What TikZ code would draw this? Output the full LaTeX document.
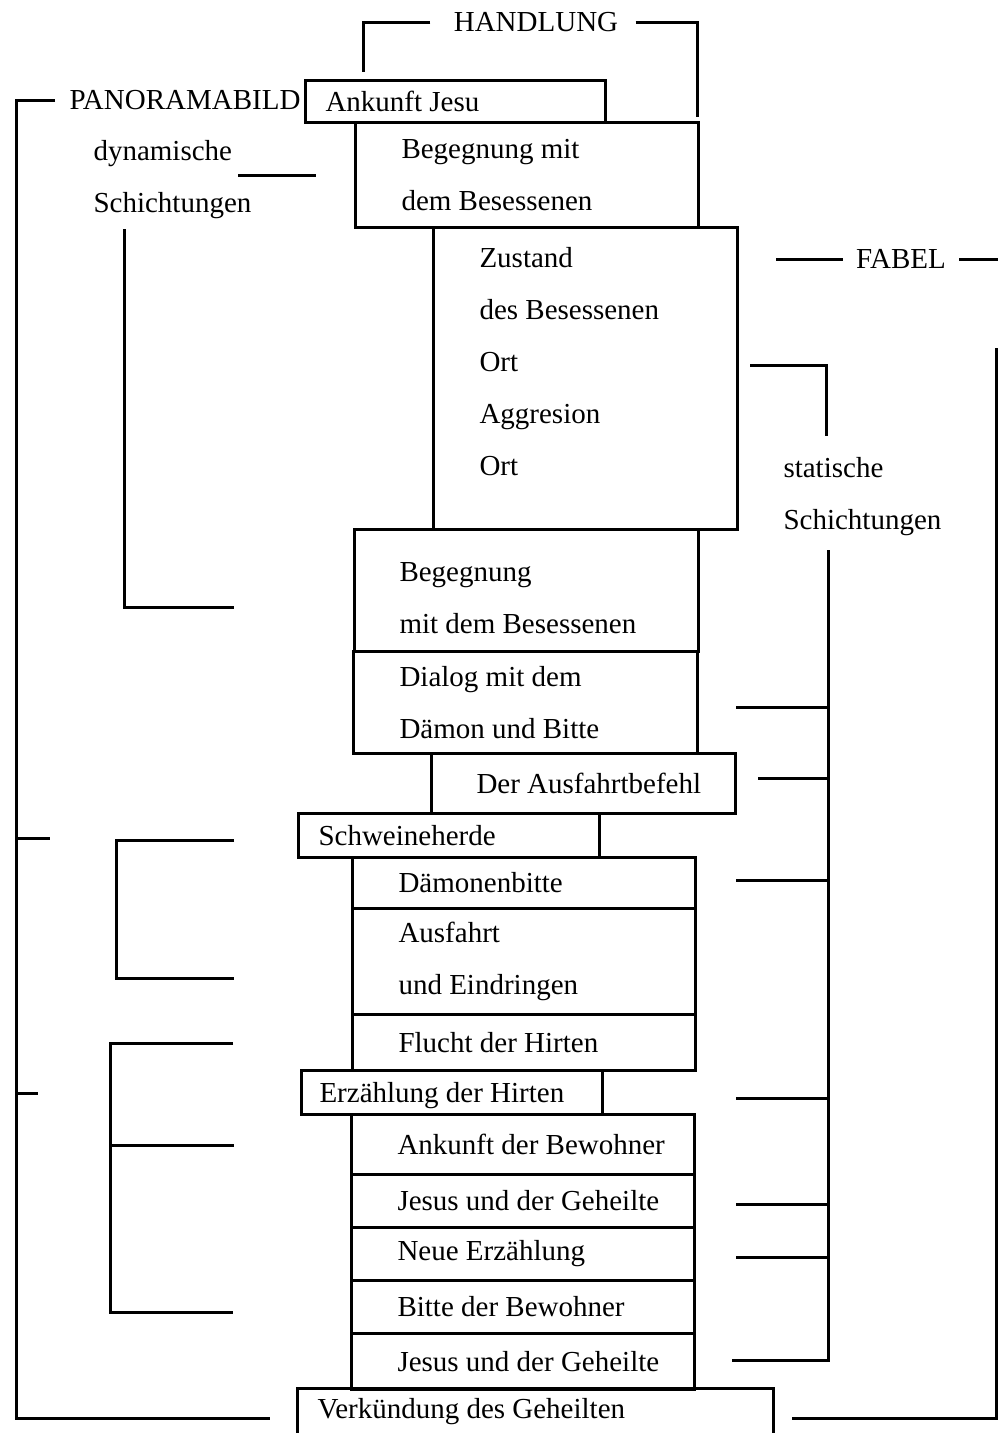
\documentclass[tikz,border=0pt]{standalone}
\usepackage{fontspec}
\setmainfont{Liberation Serif}
\usetikzlibrary{positioning}

\begin{document}
\begin{tikzpicture}[x=1pt, y=-1pt, line width=3pt,
    box/.style={draw, rectangle, anchor=north west, inner sep=0pt},
    txt/.style={inner sep=0pt, align=left, font=\fontsize{29}{52}\selectfont}]
    \useasboundingbox (0,0) rectangle (998,1433);

    % column of scenes
    \begin{scope}[every node/.style={box}]
        \node[minimum width=300pt, minimum height=42pt] (ankunft) at (304,79) {};
        \node[minimum width=343pt, minimum height=105pt] (beg1) at (354,121) {};
        \node[minimum width=304pt, minimum height=302pt] (zust) at (432,226) {};
        \node[minimum width=344pt, minimum height=122pt] (beg2) at (353,528) {};
        \node[minimum width=344pt, minimum height=102pt] (dial) at (352,650) {};
        \node[minimum width=304pt, minimum height=60pt] (befehl) at (430,752) {};
        \node[minimum width=301pt, minimum height=44pt] (schwein) at (297,812) {};
        \node[minimum width=343pt, minimum height=51pt] (daem) at (351,856) {};
        \node[minimum width=343pt, minimum height=106pt] (ausf) at (351,907) {};
        \node[minimum width=343pt, minimum height=56pt] (flucht) at (351,1013) {};
        \node[minimum width=301pt, minimum height=44pt] (erz) at (300,1069) {};
        \node[minimum width=343pt, minimum height=60pt] (ankb) at (350,1113) {};
        \node[minimum width=343pt, minimum height=53pt] (jes1) at (350,1173) {};
        \node[minimum width=343pt, minimum height=53pt] (neue) at (350,1226) {};
        \node[minimum width=343pt, minimum height=53pt] (bitte) at (350,1279) {};
        \node[minimum width=343pt, minimum height=56pt] (jes2) at (350,1332) {};
        \node[draw=none, minimum width=473pt, minimum height=45pt] (verk) at (297,1388) {};
    \end{scope}
    \draw (verk.south west) -- (verk.north west) -- (verk.north east) -- (verk.south east);

    \begin{scope}[every node/.style={txt}]
        \node[right=20pt of ankunft.west] (ankunftT) {Ankunft Jesu};
        \node[right=46pt of beg1.west] (beg1T) {Begegnung mit\\dem Besessenen};
        \node[below right=20pt and 46pt of zust.north west] (zustT) {Zustand\\des Besessenen\\Ort\\Aggresion\\Ort};
        \node[right=45pt of beg2.west, yshift=-8pt] (beg2T) {Begegnung\\mit dem Besessenen};
        \node[right=46pt of dial.west] (dialT) {Dialog mit dem\\Dämon und Bitte};
        \node[right=45pt of befehl.west] (befehlT) {Der Ausfahrtbefehl};
        \node[right=20pt of schwein.west] (schweinT) {Schweineherde};
        \node[right=46pt of daem.west] (daemT) {Dämonenbitte};
        \node[right=46pt of ausf.west] (ausfT) {Ausfahrt\\und Eindringen};
        \node[right=46pt of flucht.west] (fluchtT) {Flucht der Hirten};
        \node[right=18pt of erz.west, yshift=-3pt] (erzT) {Erzählung der Hirten};
        \node[right=46pt of ankb.west] (ankbT) {Ankunft der Bewohner};
        \node[right=46pt of jes1.west] (jes1T) {Jesus und der Geheilte};
        \node[right=46pt of neue.west] (neueT) {Neue Erzählung};
        \node[right=46pt of bitte.west] (bitteT) {Bitte der Bewohner};
        \node[right=46pt of jes2.west] (jes2T) {Jesus und der Geheilte};
        \node[right=19pt of verk.west] (verkT) {Verkündung des Geheilten};

        \node (handlung) at (536,22) {HANDLUNG};
        \node[anchor=west] (panorama) at (68,100) {PANORAMABILD};
        \node[anchor=base west] (dyn) at (92,160) {dynamische};
        \node[anchor=base west] (dynS) at (92,212) {Schichtungen};
        \node (fabel) at (901,259) {FABEL};
        \node[anchor=base west] (stat) at (782,477) {statische};
        \node[anchor=base west] (statS) at (782,529) {Schichtungen};
    \end{scope}

    % HANDLUNG
    \coordinate (hL) at (363,72);
    \coordinate (hR) at (697,117);
    \draw (handlung.west) ++(-22,0) -| (hL);
    \draw (handlung.east) ++(16,0) -| (hR);

    % PANORAMABILD and dynamische Schichtungen
    \coordinate (panoBot) at (16,1418);
    \coordinate (panoEnd) at (270,1418);
    \draw (panorama.west) ++(-13,0) -| (panoBot) -- (panoEnd);
    \draw (16,838) -- (50,838);
    \draw (16,1093) -- (38,1093);
    \draw (238,175) -- (316,175);
    \draw (124,229) |- (234,607);
    \draw (234,840) -| (116,978) -- (234,978);
    \draw (233,1043) -| (110,1312) -- (233,1312);
    \draw (110,1145) -- (234,1145);

    % FABEL and statische Schichtungen
    \draw (fabel.west) ++(-12,0) -- (776,259);
    \draw (fabel.east) ++(12,0) -- (998,259);
    \draw (996,348) |- (792,1418);
    \draw (750,365) -| (826,436);
    \draw (828,550) |- (732,1360);
    \foreach \y in {707,880,1098,1204,1257}
        \draw (736,\y) -- (828,\y);
    \draw (758,778) -- (828,778);
\end{tikzpicture}
\end{document}
